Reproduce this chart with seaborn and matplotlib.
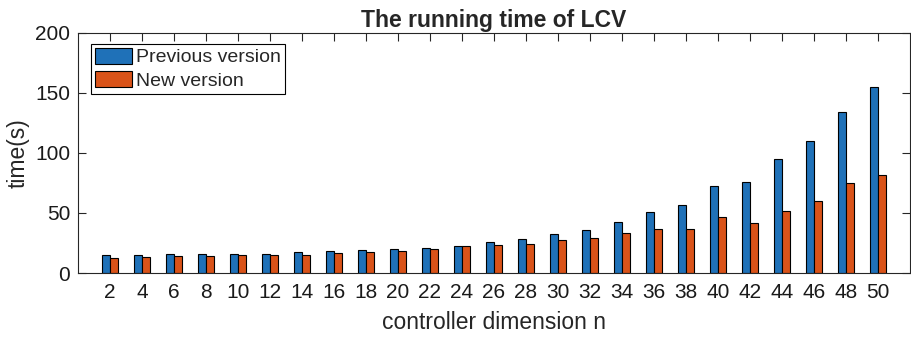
import numpy as np
import pandas as pd
import matplotlib
matplotlib.use('Agg')
from matplotlib import pyplot as plt
import seaborn as sns

# running time (s)
dims = [2, 4, 6, 8, 10, 12, 14, 16, 18, 20, 22, 24, 26, 28, 30, 32, 34, 36, 38, 40, 42, 44, 46, 48, 50]
prev_time = [14.7, 14.7, 15.8, 15.6, 15.6, 16.1, 17.8, 18.3, 18.9, 20.3, 21.1, 22.8, 26.1,
             28.3, 32.5, 36.1, 42.5, 50.8, 56.7, 72.5, 75.8, 95.0, 110.3, 134.4, 155.3]
new_time = [12.8, 13.1, 14.4, 14.4, 15.0, 15.3, 15.3, 16.4, 17.8, 18.3, 20.0, 22.2, 23.0,
            24.4, 27.5, 29.4, 33.0, 36.9, 36.7, 46.9, 41.7, 51.4, 60.3, 75.3, 81.4]
versions = ['Previous version', 'New version']
colors = ['#1f71b8', '#d95319']

df = pd.DataFrame({
    'n': dims * 2,
    'time': prev_time + new_time,
    'version': [versions[0]] * len(dims) + [versions[1]] * len(dims),
})

sns.set_theme(style='ticks')
plt.rcParams['font.family'] = ['Liberation Sans', 'DejaVu Sans']

fig = plt.figure(figsize=(9.11, 3.38), dpi=100)
ax = fig.add_axes([0.0856, 0.1923, 0.9133, 0.7101])

sns.barplot(data=df, x='n', y='time', hue='version', hue_order=versions,
            palette=colors, width=0.5, edgecolor='black', linewidth=0.8,
            saturation=1, ax=ax)

ax.set_xlim(-1, len(dims))
ax.set_ylim(0, 200)
ax.set_yticks([0, 50, 100, 150, 200])

for side in ['top', 'right', 'left', 'bottom']:
    ax.spines[side].set_visible(True)
    ax.spines[side].set_color('#262626')
    ax.spines[side].set_linewidth(0.8)

ax.tick_params(axis='both', direction='in', length=5.8, width=0.8, color='#262626',
               top=True, right=True, labelsize=15, labelcolor='#1a1a1a')
ax.tick_params(axis='x', pad=7)
ax.tick_params(axis='y', pad=5.5)

ax.set_title('The running time of LCV', fontsize=16.5, fontweight='bold', pad=4)
ax.set_xlabel('controller dimension n', fontsize=16.5, labelpad=6.5)
ax.set_ylabel('time(s)', fontsize=16.5, labelpad=4)

handles, labels = ax.get_legend_handles_labels()
ax.legend(handles, labels, loc='upper left', bbox_to_anchor=(0.016, 0.955),
          fontsize=14, frameon=True, fancybox=False, edgecolor='black',
          framealpha=1, borderpad=0.2, handlelength=1.9, handleheight=0.9,
          handletextpad=0.2, labelspacing=0.25, borderaxespad=0)
ax.get_legend().get_frame().set_linewidth(0.8)

fig.savefig('out.png', dpi=100)
